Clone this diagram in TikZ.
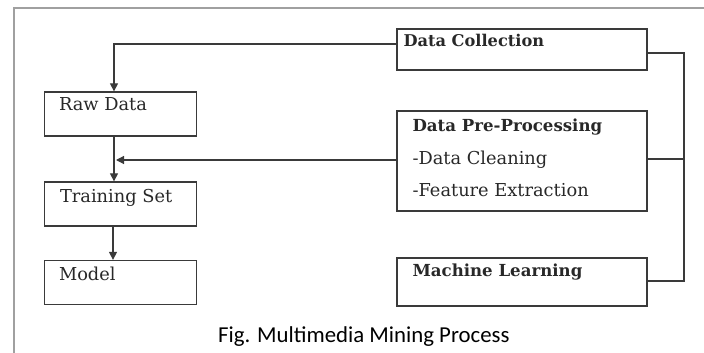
\documentclass[tikz,border=0pt]{standalone}
\usepackage{fontspec}
\setmainfont{DejaVu Serif}
\newfontfamily\capfont{Carlito}
\usetikzlibrary{arrows.meta,positioning,calc}
\definecolor{boxgray}{RGB}{58,58,58}
\definecolor{framegray}{RGB}{160,160,160}
\definecolor{textgray}{RGB}{40,40,40}

\begin{document}
\begin{tikzpicture}[x=1pt,y=-1pt,box/.style={draw=boxgray,line width=1.3pt,minimum width=152pt,minimum height=44pt,inner sep=0pt},rbox/.style={box,minimum width=250pt},lbl/.style={anchor=base west,inner sep=0pt,text=textgray,font=\fontsize{17.8}{20}\selectfont},blbl/.style={lbl,font=\fontsize{16.2}{18}\selectfont\bfseries},link/.style={draw=boxgray,line width=1.2pt},arr/.style={link,-{Triangle[length=8pt,width=8pt]}}]
\useasboundingbox (0,0) rectangle (704,353);
\draw[framegray,line width=2pt] (14,353) -- (14,8) -- (704,8);
% left column
\node[box] (raw) at (120.5,114) {}; \node[box] (train) at (120.5,204) {};
\node[box] (model) at (120.5,282.5) {};
\node[lbl] at ([xshift=15pt,yshift=-19pt]raw.north west) {Raw Data};
\node[lbl] at ([xshift=16pt,yshift=-21pt]train.north west) {Training Set};
\node[lbl] at ([xshift=15pt,yshift=-21pt]model.north west) {Model};
% right column
\node[rbox,minimum height=41pt] (coll) at (522,49.5) {};
\node[rbox,minimum height=100pt] (prep) at (522,161) {};
\node[rbox,minimum height=48pt] (ml) at (522,282) {};
\node[blbl] at ([xshift=7pt,yshift=-18pt]coll.north west) {Data Collection};
\node[blbl,font=\fontsize{16.6}{18}\selectfont\bfseries] at ([xshift=16pt,yshift=-21pt]prep.north west) {Data Pre-Processing};
\node[lbl] at ([xshift=16pt,yshift=-54pt]prep.north west) {-Data Cleaning};
\node[lbl] at ([xshift=16pt,yshift=-86pt]prep.north west) {-Feature Extraction};
\node[blbl,font=\fontsize{16.6}{18}\selectfont\bfseries] at ([xshift=16pt,yshift=-19pt]ml.north west) {Machine Learning};
% connectors
\coordinate (join) at (114,160);
\draw[arr] (coll.west |- 0,44) -| (raw.north -| join);
\draw[arr] (raw.south -| join) -- (train.north -| join);
\draw[arr] (prep.west |- join) -- ([xshift=2pt]join);
\draw[arr] (train.south -| 113,0) -- (model.north -| 113,0);
\draw[link] (coll.east |- 0,53) -| (684,281) -- (ml.east |- 0,281);
\draw[link] (prep.east |- 0,159) -- (684,159);
% caption
\node[anchor=base west,inner sep=0pt,font=\capfont\fontsize{22.8}{26}\selectfont] (cap) at (218,342) {Fig. Multimedia Mining Process};
\end{tikzpicture}
\end{document}
